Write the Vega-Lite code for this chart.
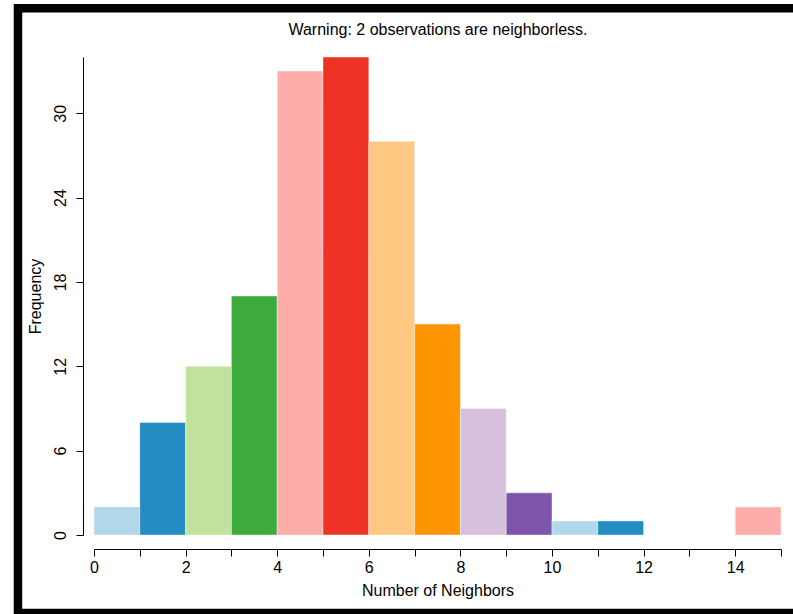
{
  "$schema": "https://vega.github.io/schema/vega-lite/v6.json",
  "width": 687,
  "height": 478,
  "autosize": {"type": "none"},
  "padding": {"left": 94, "top": 57, "right": 12, "bottom": 79},
  "background": "white",
  "config": {
    "view": {"stroke": null},
    "font": "Liberation Sans",
    "axis": {"grid": false, "domainColor": "black", "tickColor": "black", "labelColor": "black", "titleColor": "black", "labelFontSize": 16, "titleFontSize": 16, "titleFontWeight": "normal", "tickSize": 7, "domainWidth": 1, "tickWidth": 1}
  },
  "resolve": {"axis": {"x": "independent"}},
  "layer": [
    {
      "data": {"values": [
        {"start": 0, "end": 1, "count": 2},
        {"start": 1, "end": 2, "count": 8},
        {"start": 2, "end": 3, "count": 12},
        {"start": 3, "end": 4, "count": 17},
        {"start": 4, "end": 5, "count": 33},
        {"start": 5, "end": 6, "count": 34},
        {"start": 6, "end": 7, "count": 28},
        {"start": 7, "end": 8, "count": 15},
        {"start": 8, "end": 9, "count": 9},
        {"start": 9, "end": 10, "count": 3},
        {"start": 10, "end": 11, "count": 1},
        {"start": 11, "end": 12, "count": 1},
        {"start": 12, "end": 13, "count": 0},
        {"start": 13, "end": 14, "count": 0},
        {"start": 14, "end": 15, "count": 2}
      ]},
      "mark": {"type": "rect", "stroke": "white", "strokeOpacity": 0.4, "strokeWidth": 1},
      "encoding": {
        "x": {"field": "start", "type": "quantitative",
              "scale": {"domain": [0, 15], "nice": false, "zero": false},
              "axis": {"title": "Number of Neighbors", "orient": "bottom", "values": [0,1,2,3,4,5,6,7,8,9,10,11,12,13,14,15], "labelExpr": "datum.value % 2 == 0 ? datum.label : ''", "offset": 14, "labelPadding": 3, "titlePadding": 7, "labelFlush": false}},
        "x2": {"field": "end"},
        "y": {"field": "count", "type": "quantitative",
              "scale": {"domain": [0, 34], "nice": false},
              "axis": {"title": "Frequency", "values": [0, 6, 12, 18, 24, 30], "offset": 11, "labelAngle": -90, "labelAlign": "center", "labelBaseline": "bottom", "labelPadding": 8, "titlePadding": 9, "labelFlush": false}},
        "y2": {"datum": 0},
        "color": {"field": "start", "type": "nominal", "legend": null,
                  "scale": {"domain": [0,1,2,3,4,5,6,7,8,9,10,11,12,13,14],
                            "range": ["#B3D7EA", "#238CC2", "#C0E29C", "#3DAB3B", "#FDAEAB", "#EE3325", "#FFC983", "#FD9500", "#D6C0DD", "#7D55AA", "#B3D7EA", "#238CC2", "#C0E29C", "#3DAB3B", "#FDAEAB"]}}
      }
    },
    {
      "data": {"values": [{"frame": "border"}]},
      "mark": {"type": "rect", "filled": false, "stroke": "black", "strokeWidth": 8.5, "clip": false},
      "encoding": {
        "x": {"datum": -1.66, "type": "quantitative",
              "axis": {"orient": "top", "title": "Warning: 2 observations are neighborless.", "domain": false, "ticks": false, "labels": false, "titlePadding": 20, "titleFontSize": 16}},
        "x2": {"datum": 15.4},
        "y": {"datum": 37.46, "type": "quantitative"},
        "y2": {"datum": -5.55}
      }
    }
  ]
}
